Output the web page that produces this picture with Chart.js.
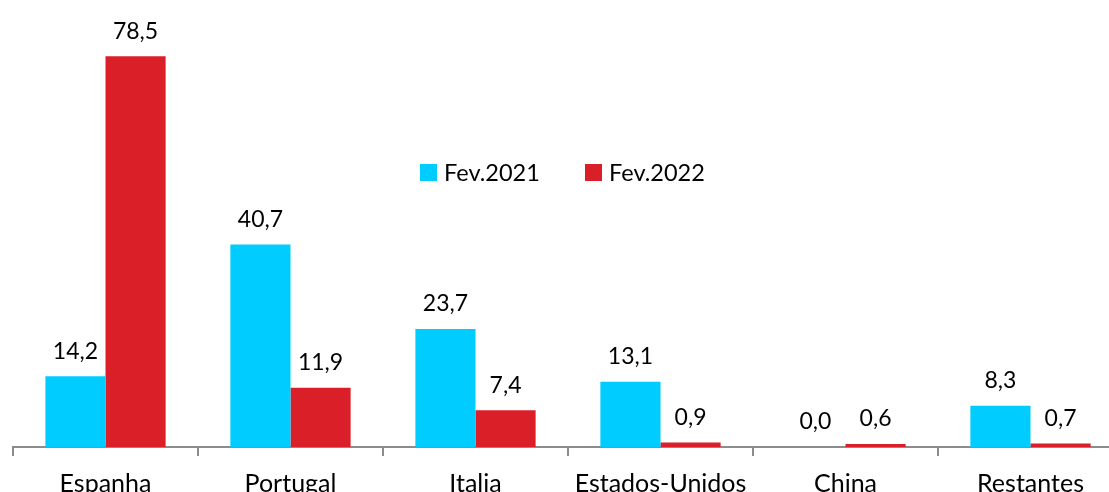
<!DOCTYPE html>
<html>
<head>
<meta charset="utf-8">
<script src="https://cdn.jsdelivr.net/npm/chart.js@4/dist/chart.umd.min.js"></script>
<style>
html,body{margin:0;padding:0;background:#fff;overflow:hidden;}
#wrap{width:1109px;height:492px;overflow:hidden;}
</style>
</head>
<body>
<div id="wrap"><canvas id="c" width="1123" height="492"></canvas></div>
<script>
const categories = ['Espanha','Portugal','Italia','Estados-Unidos','China','Restantes'];
const seriesNames = ['Fev.2021','Fev.2022'];
const fev2021 = [14.2, 40.7, 23.7, 13.1, 0.0, 8.3];
const fev2022 = [78.5, 11.9, 7.4, 0.9, 0.6, 0.7];
const colors = ['#00CCFF', '#DA1F28'];

const FONT = 'Lato';

const valueLabels = {
  id: 'valueLabels',
  afterDatasetsDraw(chart) {
    const ctx = chart.ctx;
    ctx.save();
    ctx.fillStyle = '#000';
    ctx.font = '23px ' + FONT;
    ctx.textAlign = 'center';
    ctx.textBaseline = 'middle';
    chart.data.datasets.forEach((ds, i) => {
      const meta = chart.getDatasetMeta(i);
      meta.data.forEach((el, j) => {
        const v = ds.data[j];
        ctx.fillText(v.toFixed(1).replace('.', ','), el.x, el.y - 25);
      });
    });
    ctx.restore();
  }
};

const customLegend = {
  id: 'customLegend',
  afterDraw(chart) {
    const ctx = chart.ctx;
    ctx.save();
    ctx.font = '23.5px ' + FONT;
    ctx.textBaseline = 'middle';
    ctx.textAlign = 'left';
    const starts = [420, 585];
    chart.data.datasets.forEach((ds, i) => {
      const x = starts[i];
      ctx.fillStyle = ds.backgroundColor;
      ctx.fillRect(x, 164, 17, 17);
      ctx.fillStyle = '#000';
      ctx.fillText(ds.label, x + 24, 173);
    });
    ctx.restore();
  }
};

new Chart(document.getElementById('c'), {
  type: 'bar',
  data: {
    labels: categories,
    datasets: [
      { label: seriesNames[0], data: fev2021, backgroundColor: colors[0], borderWidth: 0 },
      { label: seriesNames[1], data: fev2022, backgroundColor: colors[1], borderWidth: 0 }
    ]
  },
  options: {
    responsive: false,
    devicePixelRatio: 1,
    animation: false,
    layout: { padding: { left: 13, right: 0, top: 0, bottom: 0 } },
    datasets: { bar: { barPercentage: 1.0, categoryPercentage: 0.65 } },
    plugins: { legend: { display: false }, tooltip: { enabled: false } },
    scales: {
      x: {
        afterFit: (s) => { s.height = 45; },
        grid: { display: true, drawOnChartArea: false, drawTicks: true, tickLength: 9, color: '#8c8c8c', lineWidth: 2, offset: true },
        border: { display: true, color: '#8c8c8c', width: 2 },
        ticks: { color: '#000', font: { family: FONT, size: 25 }, padding: 13, maxRotation: 0, autoSkip: false }
      },
      y: {
        display: false,
        min: 0,
        max: 89.8
      }
    }
  },
  plugins: [valueLabels, customLegend]
});
</script>
</body>
</html>
